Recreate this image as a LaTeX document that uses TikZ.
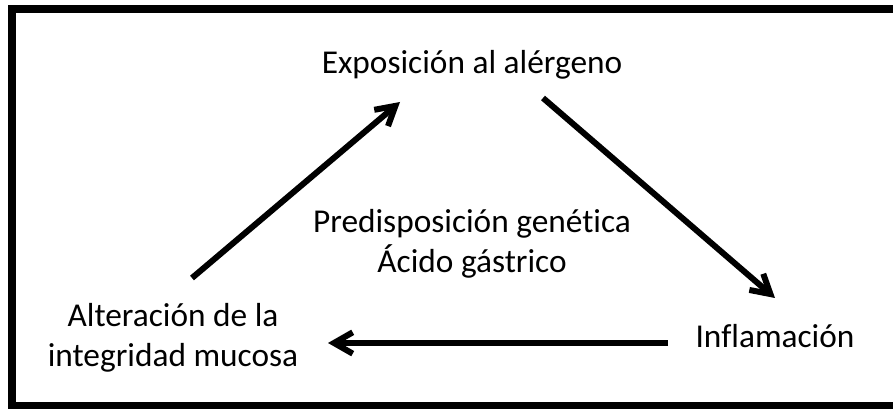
\documentclass[tikz,border=0pt]{standalone}
\usepackage{fontspec}
\setmainfont[Ligatures=NoCommon]{Carlito}
\usetikzlibrary{arrows.meta}

\begin{document}
\begin{tikzpicture}[x=0.75pt,y=-0.75pt,
        lbl/.style={font=\fontsize{25pt}{30pt}\selectfont, inner sep=0pt, align=center, anchor=base},
        arr/.style={line width=4.5pt, -{Straight Barb[length=14pt,width=16pt]}}]
        \useasboundingbox (0,0) rectangle (893,409);
        \draw [line width=6pt] (893,9) -- (12,9) -- (12,406) -- (893,406);
        \node [lbl] (Exp) at (472,74) {Exposición al alérgeno};
        \node [lbl] (Inf) at (775,348) {Inflamación};
        \node [lbl] (Alt) at (173,367) {Alteración de la\\integridad mucosa};
        \node [lbl] (Pre) at (472,273) {Predisposición genética\\Ácido gástrico};
        \coordinate (AltE) at (192,278);
        \coordinate (ExpA) at (400,102);
        \coordinate (ExpI) at (543,98);
        \coordinate (InfE) at (775,298);
        \coordinate (InfA) at (668,343);
        \coordinate (AltI) at (328,343);
        \draw [arr] (AltE) -- (ExpA);
        \draw [arr] (ExpI) -- (InfE);
        \draw [arr] (InfA) -- (AltI);
\end{tikzpicture}
\end{document}
